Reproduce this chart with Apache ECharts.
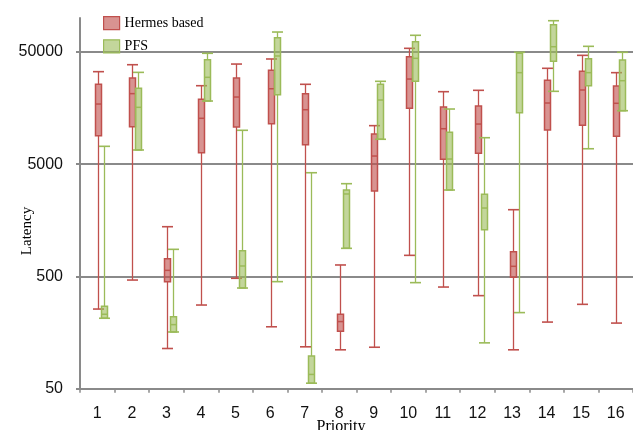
<!DOCTYPE html>
<html><head><meta charset="utf-8">
<script src="https://cdn.jsdelivr.net/npm/echarts@6/dist/echarts.min.js"></script>
<style>html,body{margin:0;padding:0;background:#fff}#c{width:633px;height:430px}</style>
</head><body><div id="c"></div>
<script>
const categories = ['1','2','3','4','5','6','7','8','9','10','11','12','13','14','15','16'];
const yTicks = [50, 500, 5000, 50000];
const seriesNames = ['Hermes based', 'PFS'];
// each entry: [min, q1, median, q3, max]
const hermes = [
  [256, 8950, 17140, 25700, 33270],
  [464, 10770, 21200, 29200, 38370],
  [114, 449, 566, 719, 1385],
  [278, 6320, 12790, 18880, 24950],
  [481, 10700, 19780, 29200, 38900],
  [178, 11450, 23450, 34200, 43150],
  [118, 7450, 15250, 21200, 25680],
  [111, 162, 198, 230, 632],
  [117, 2880, 5900, 9270, 11000],
  [770, 15700, 28600, 45200, 53700],
  [402, 5520, 10330, 16100, 22070],
  [337, 6240, 11370, 16450, 22700],
  [111, 491, 615, 830, 1963],
  [196, 10060, 17500, 27860, 35650],
  [282, 11080, 22850, 33500, 46500],
  [192, 8840, 17400, 24800, 32600]
];
const pfs = [
  [212, 212, 230, 271, 7200],
  [6680, 6680, 16020, 23660, 32800],
  [160, 160, 186, 219, 871],
  [18230, 18230, 29640, 42540, 48500],
  [394, 394, 619, 847, 10000],
  [449, 20750, 45900, 66770, 75000],
  [56, 56, 67, 98, 4190],
  [889, 889, 2710, 2940, 3346],
  [8320, 8320, 18600, 25680, 27300],
  [440, 27300, 43750, 61500, 70150],
  [2940, 2940, 5550, 9600, 15470],
  [128, 1303, 2032, 2690, 8590],
  [238, 14350, 32600, 48500, 49500],
  [22240, 41150, 55500, 87200, 94600],
  [6850, 24950, 32600, 43400, 55950],
  [14950, 14950, 27650, 42260, 49500]
];

const RED = '#c0504d', RED_FILL = 'rgba(192,80,77,0.62)';
const GREEN = '#9bbb59', GREEN_FILL = 'rgba(155,187,89,0.6)';
const GRAY = '#8a8a8a';

function makeRender(stroke, fill, dx) {
  return function (params, api) {
    const c = api.value(0);
    const p = k => api.coord([c, api.value(k)]);
    const pMin = p(1), pQ1 = p(2), pMed = p(3), pQ3 = p(4), pMax = p(5);
    const x = Math.round(pMin[0] + dx) + 0.5;
    const bw = 6, cw = 11;
    const ls = { stroke: stroke, lineWidth: 1.3 };
    return {
      type: 'group',
      children: [
        { type: 'line', shape: { x1: x, y1: pMax[1], x2: x, y2: pQ3[1] }, style: ls },
        { type: 'line', shape: { x1: x, y1: pQ1[1], x2: x, y2: pMin[1] }, style: ls },
        { type: 'line', shape: { x1: x - cw / 2, y1: pMax[1], x2: x + cw / 2, y2: pMax[1] }, style: { stroke: stroke, lineWidth: 1.6 } },
        { type: 'line', shape: { x1: x - cw / 2, y1: pMin[1], x2: x + cw / 2, y2: pMin[1] }, style: { stroke: stroke, lineWidth: 1.6 } },
        { type: 'rect', shape: { x: x - bw / 2, y: pQ3[1], width: bw, height: Math.max(pQ1[1] - pQ3[1], 1) }, style: { fill: fill, stroke: stroke, lineWidth: 1.5 } },
        { type: 'line', shape: { x1: x - bw / 2, y1: pMed[1], x2: x + bw / 2, y2: pMed[1] }, style: { stroke: stroke, lineWidth: 1.5 } }
      ]
    };
  };
}

const chart = echarts.init(document.getElementById('c'), null, { renderer: 'canvas' });
chart.setOption({
  animation: false,
  backgroundColor: '#fff',
  grid: { left: 80, top: 18, width: 555, bottom: 41.3, containLabel: false },
  legend: {
    orient: 'vertical', left: 98, top: 11,
    itemWidth: 16, itemHeight: 13, itemGap: 9,
    icon: 'rect',
    textStyle: { fontFamily: 'Liberation Serif', fontSize: 14, color: '#000' },
    data: [
      { name: seriesNames[0], itemStyle: { color: RED_FILL, borderColor: RED, borderWidth: 1.2 } },
      { name: seriesNames[1], itemStyle: { color: GREEN_FILL, borderColor: GREEN, borderWidth: 1.2 } }
    ]
  },
  xAxis: {
    type: 'category', data: categories, boundaryGap: true,
    axisLine: { lineStyle: { color: GRAY, width: 2 } },
    axisTick: { show: true, length: 4, lineStyle: { color: GRAY, width: 1.5 } },
    axisLabel: { fontFamily: 'Liberation Sans', fontSize: 16, color: '#111', margin: 17 },
    splitLine: { show: false }
  },
  yAxis: {
    type: 'log', logBase: 10, min: 50, max: 100000,
    axisLine: { show: true, lineStyle: { color: GRAY, width: 2 } },
    axisTick: { show: true, length: 4, customValues: yTicks, lineStyle: { color: GRAY, width: 2 } },
    axisLabel: { customValues: yTicks, formatter: v => String(Math.round(v)), fontFamily: 'Liberation Sans', fontSize: 16, color: '#111', margin: 17 },
    splitLine: { show: true, lineStyle: { color: GRAY, width: 2 } },
    minorTick: { show: false }
  },
  graphic: [
    { type: 'text', x: 27, y: 231, rotation: Math.PI / 2,
      style: { text: 'Latency', fontFamily: 'Liberation Serif', fontSize: 15, fill: '#000', align: 'center', verticalAlign: 'middle' } },
    { type: 'text', x: 341, y: 419,
      style: { text: 'Priority', fontFamily: 'Liberation Serif', fontSize: 16, fill: '#000', align: 'center', verticalAlign: 'top' } }
  ],
  series: [
    {
      name: seriesNames[0], type: 'custom',
      itemStyle: { color: RED_FILL, borderColor: RED },
      encode: { x: 0, y: [1, 2, 3, 4, 5] },
      renderItem: makeRender(RED, RED_FILL, 0.5),
      data: hermes.map((d, i) => [i].concat(d)),
      z: 3
    },
    {
      name: seriesNames[1], type: 'custom',
      itemStyle: { color: GREEN_FILL, borderColor: GREEN },
      encode: { x: 0, y: [1, 2, 3, 4, 5] },
      renderItem: makeRender(GREEN, GREEN_FILL, 6.5),
      data: pfs.map((d, i) => [i].concat(d)),
      z: 3
    }
  ]
});
</script></body></html>
